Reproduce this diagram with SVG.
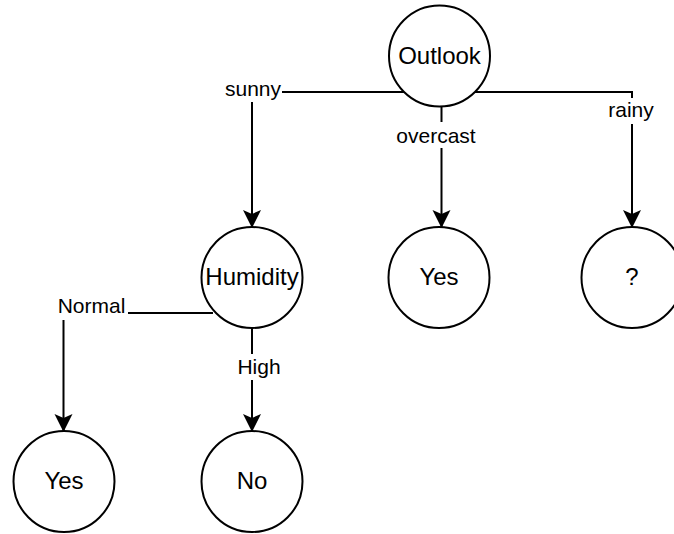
<svg xmlns="http://www.w3.org/2000/svg" width="674" height="534" viewBox="0 0 674 534">
<style>
.node circle{fill:#fff;stroke:#000;stroke-width:2}
.node text{font-family:"Liberation Sans",Arial,sans-serif;font-size:24px;text-anchor:middle;fill:#000}
.edge{fill:none;stroke:#000;stroke-width:2}
.lbl rect{fill:#fff}
.lbl text{font-family:"Liberation Sans",Arial,sans-serif;font-size:21px;text-anchor:middle;fill:#000}
</style>
<defs>
<marker id="arr" viewBox="0 0 18 20" refX="17" refY="10" markerWidth="18" markerHeight="20" markerUnits="userSpaceOnUse" orient="auto">
<path d="M18,10 L0,1 L4,10 L0,19 Z" fill="#000"/>
</marker>
</defs>
<rect width="674" height="534" fill="#fff"/>
<g id="connectors">
<path class="edge" d="M405,92 L252,92 L252,227" marker-end="url(#arr)"/>
<path class="edge" d="M441.5,107 L441.5,227" marker-end="url(#arr)"/>
<path class="edge" d="M474,92 L632,92 L632,227" marker-end="url(#arr)"/>
<path class="edge" d="M213,313 L63.5,313 L63.5,431" marker-end="url(#arr)"/>
<path class="edge" d="M252,328 L252,431" marker-end="url(#arr)"/>
<g class="lbl">
<rect x="222" y="78" width="60" height="24"/><text x="253" y="96">sunny</text>
<rect x="393" y="122" width="86" height="26"/><text x="436" y="143">overcast</text>
<rect x="604" y="98" width="56" height="26"/><text x="631" y="117">rainy</text>
<rect x="55" y="294" width="73" height="26"/><text x="91.5" y="313">Normal</text>
<rect x="235" y="354" width="48" height="26"/><text x="259" y="374">High</text>
</g>
</g>
<g id="outlook" class="node"><circle cx="439.5" cy="56" r="50.5"/><text x="439.5" y="63.5">Outlook</text></g>
<g id="humidity" class="node"><circle cx="252" cy="277.5" r="50.5"/><text x="252" y="285">Humidity</text></g>
<g id="yes-overcast" class="node"><circle cx="439" cy="277.5" r="50.5"/><text x="439" y="285">Yes</text></g>
<g id="unknown" class="node"><circle cx="632" cy="277.5" r="50.5"/><text x="632" y="285">?</text></g>
<g id="yes-normal" class="node"><circle cx="64" cy="481.5" r="50.5"/><text x="64" y="489">Yes</text></g>
<g id="no-high" class="node"><circle cx="252" cy="481.5" r="50.5"/><text x="252" y="489">No</text></g>
</svg>
